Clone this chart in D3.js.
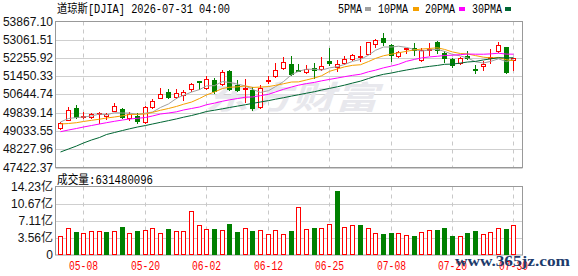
<!DOCTYPE html>
<html>
<head>
<meta charset="utf-8">
<script src="https://cdn.jsdelivr.net/npm/d3@7/dist/d3.min.js"></script>
<style>
  body { margin: 0; background: #fff; }
</style>
</head>
<body>
<svg id="chart" width="578" height="276"></svg>
<script>
// daily candles, oldest first (index 0 .. 59)
const open = [49152, 49519, 50062, 49678, 49638, 49771, 49709, 49929, 50004, 49593,
  49696, 49444, 50079, 50503, 50742, 50547, 50622, 50874, 51240, 50953,
  51297, 51108, 51695, 51051, 50918, 50856, 50079, 51227, 51448, 51814,
  51991, 51739, 51638, 51801, 51757, 52110, 51845, 52048, 52225, 52286,
  52445, 52887, 53138, 52843, 52331, 52667, 52697, 52154, 52621, 52962,
  52476, 52211, 52035, 52357, 51783, 51889, 52242, 52578, 52741, 52189];
const high = [49444, 50079, 50181, 49857, 49842, 49886, 49815, 50256, 50049, 49857,
  49815, 50150, 50432, 50918, 50874, 50874, 50843, 51165, 51240, 51448,
  51372, 51739, 51739, 51297, 51342, 50962, 51051, 51448, 52035, 52286,
  52331, 51991, 51960, 52035, 52286, 52697, 52167, 52357, 52432, 52772,
  52980, 53094, 53359, 52860, 52574, 52700, 52918, 52697, 52918, 52992,
  52551, 52255, 52286, 52551, 51933, 52110, 52666, 52962, 52760, 52270];
const low = [49121, 49510, 49593, 49593, 49593, 49373, 49550, 49916, 49593, 49519,
  49373, 49373, 50035, 50490, 50476, 50476, 50402, 50799, 50874, 50887,
  50710, 51078, 50856, 50813, 50313, 49974, 50049, 51152, 51417, 51783,
  51518, 51668, 51594, 51373, 51726, 51960, 51695, 51991, 52181, 52110,
  52430, 52726, 52843, 52136, 52300, 52476, 52401, 52136, 52401, 52476,
  52066, 51858, 51991, 52225, 51593, 51739, 52035, 52520, 51594, 51726];
const close = [49373, 49960, 49665, 49710, 49771, 49815, 49771, 50137, 49638, 49771,
  49488, 50079, 50371, 50653, 50547, 50724, 50740, 51094, 51209, 51351,
  50785, 51638, 50900, 50843, 50945, 50049, 50932, 51297, 51739, 52066,
  51549, 51695, 51757, 51726, 51889, 52022, 51991, 52225, 52401, 52331,
  52962, 53063, 52949, 52401, 52507, 52697, 52595, 52600, 52665, 52622,
  52255, 51933, 52255, 52240, 51757, 51991, 52286, 52816, 51624, 52255];
const volume = [396e6, 556e6, 479e6, 451e6, 493e6, 493e6, 479e6, 493e6, 583e6, 451e6,
  500e6, 521e6, 556e6, 451e6, 542e6, 493e6, 493e6, 910e6, 618e6, 542e6,
  542e6, 521e6, 653e6, 486e6, 556e6, 500e6, 521e6, 438e6, 521e6, 438e6,
  500e6, 1000e6, 542e6, 563e6, 563e6, 646e6, 1333e6, 583e6, 625e6, 625e6,
  563e6, 465e6, 438e6, 465e6, 465e6, 417e6, 396e6, 479e6, 521e6, 521e6,
  563e6, 396e6, 396e6, 465e6, 500e6, 438e6, 479e6, 563e6, 542e6, 631480096];

// moving-average values before enough candles exist
const ma5Head = [49431, 49585, 49629, 49651];
const ma10Head = [49342, 49364, 49400, 49453, 49506, 49554, 49607, 49651, 49704];
const ma20Head = [49003, 49078, 49144, 49210, 49276, 49342, 49400, 49462, 49519, 49563,
  49594, 49630, 49696, 49784, 49828, 49881, 49960, 50027, 50093];
const ma30Head = [48107, 48239, 48371, 48504, 48636, 48747, 48879, 48967, 49055, 49130,
  49210, 49276, 49342, 49417, 49492, 49567, 49642, 49717, 49805, 49894,
  49951, 50013, 50071, 50132, 50194, 50252, 50314, 50375, 50437];

const priceTicks = [47422.37, 48227.96, 49033.55, 49839.14, 50644.74, 51450.33, 52255.92, 53061.51, 53867.10];
const volTicks = [0, 3.56e8, 7.11e8, 10.67e8, 14.23e8];
const dateTicks = ['05-08', '05-20', '06-02', '06-12', '06-25', '07-08', '07-20', '07-30'];
const dateTickIdx = [3, 11, 19, 27, 35, 43, 51, 59];
const legendNames = ['5PMA', '10PMA', '20PMA', '30PMA'];
const title = '道琼斯[DJIA] 2026-07-31 04:00';

const UP = '#ff0000', DOWN = '#008000';
const maColors = ['#a0a0a0', '#f5a000', '#ff00ff', '#006633'];
const monoFont = '"Liberation Mono", "Noto Sans CJK SC", monospace';
const sansFont = '"Liberation Sans", "Noto Sans CJK SC", sans-serif';

const svg = d3.select('#chart');

// panel geometry
const L = 55.5, R = 522.5;
const pTop = 21.5, pBot = 167.5;
const vTop = 186.5, vBot = 255;

const x = d3.scaleBand().domain(d3.range(close.length)).range([56.5, 517.3]);
const cx = i => Math.round(x(i) + x.bandwidth() / 2);
const y = d3.scaleLinear().domain([priceTicks[0], priceTicks[priceTicks.length - 1]]).range([pBot, pTop]);
const yv = d3.scaleLinear().domain([0, volTicks[volTicks.length - 1]]).range([vBot, vTop]);

// moving averages
function movingAvg(n, head) {
  return close.map((c, i) => i < head.length ? head[i] : d3.mean(close.slice(i - n + 1, i + 1)));
}
const maSeries = [movingAvg(5, ma5Head), movingAvg(10, ma10Head), movingAvg(20, ma20Head), movingAvg(30, ma30Head)];

// ---- grid ----
const grid = svg.append('g');
grid.selectAll('.hp').data(priceTicks.slice(0, -1)).enter().append('line')
  .attr('x1', L).attr('x2', R)
  .attr('y1', d => Math.round(y(d)) + 0.5).attr('y2', d => Math.round(y(d)) + 0.5)
  .attr('stroke', '#cfcfcf');
grid.selectAll('.hv').data(volTicks.slice(1, -1)).enter().append('line')
  .attr('x1', L).attr('x2', R)
  .attr('y1', d => Math.round(yv(d)) + 0.5).attr('y2', d => Math.round(yv(d)) + 0.5)
  .attr('stroke', '#cfcfcf');
dateTickIdx.forEach(i => {
  [[pTop, pBot], [vTop, vBot]].forEach(([a, b]) => {
    grid.append('line')
      .attr('x1', cx(i) + 0.5).attr('x2', cx(i) + 0.5)
      .attr('y1', a).attr('y2', b)
      .attr('stroke', '#c8c8c8').attr('stroke-dasharray', '4,4');
  });
});

// watermark
svg.append('text')
  .attr('x', 205).attr('y', 109)
  .attr('font-family', '"Noto Sans CJK SC", sans-serif')
  .attr('font-size', 32).attr('font-weight', 'bold').attr('font-style', 'italic')
  .attr('textLength', 173).attr('lengthAdjust', 'spacingAndGlyphs')
  .attr('fill', '#e8e8ed')
  .text('东方财富');

// panel frames
svg.append('rect').attr('x', L).attr('y', pTop).attr('width', R - L).attr('height', pBot - pTop)
  .attr('fill', 'none').attr('stroke', '#999');
svg.append('rect').attr('x', L).attr('y', vTop).attr('width', R - L).attr('height', vBot - vTop)
  .attr('fill', 'none').attr('stroke', '#999');

// ---- candles ----
const candles = svg.append('g').selectAll('g').data(close).enter().append('g');
candles.append('line')
  .attr('x1', (d, i) => cx(i) + 0.5).attr('x2', (d, i) => cx(i) + 0.5)
  .attr('y1', (d, i) => Math.round(y(high[i]))).attr('y2', (d, i) => Math.round(y(low[i])) + 1)
  .attr('stroke', (d, i) => close[i] >= open[i] ? UP : DOWN);
candles.append('rect')
  .attr('x', (d, i) => cx(i) - 1.5)
  .attr('width', 4)
  .attr('y', (d, i) => Math.round(y(Math.max(open[i], close[i]))) + 0.5)
  .attr('height', (d, i) => Math.max(1, Math.round(y(Math.min(open[i], close[i]))) - Math.round(y(Math.max(open[i], close[i])))))
  .attr('fill', (d, i) => close[i] >= open[i] ? '#fff' : DOWN)
  .attr('stroke', (d, i) => close[i] >= open[i] ? UP : DOWN);

// ---- moving average lines ----
const line = d3.line().x((d, i) => cx(i) + 0.5).y(d => y(d));
maSeries.forEach((s, k) => {
  svg.append('path').datum(s)
    .attr('d', line).attr('fill', 'none')
    .attr('stroke', maColors[k]).attr('stroke-width', 1);
});

// ---- volume ----
// bar colour follows close vs previous close
const volUp = i => i === 0 || close[i] >= close[i - 1];
svg.append('g').selectAll('rect').data(volume).enter().append('rect')
  .attr('x', (d, i) => cx(i) - 1.5)
  .attr('width', 4)
  .attr('y', d => Math.round(yv(d)) + 0.5)
  .attr('height', d => Math.round(vBot) - Math.round(yv(d)) - 1)
  .attr('fill', (d, i) => volUp(i) ? '#fff' : DOWN)
  .attr('stroke', (d, i) => volUp(i) ? UP : DOWN);

// ---- axis labels ----
svg.append('g').selectAll('text').data(priceTicks).enter().append('text')
  .attr('x', 53).attr('y', d => y(d))
  .attr('text-anchor', 'end').attr('dominant-baseline', 'central')
  .attr('font-family', sansFont).attr('font-size', 12).attr('fill', '#111')
  .text(d => d.toFixed(2));
svg.append('g').selectAll('text').data(volTicks).enter().append('text')
  .attr('x', 53).attr('y', d => yv(d))
  .attr('text-anchor', 'end').attr('dominant-baseline', 'central')
  .attr('font-family', sansFont).attr('font-size', 12).attr('fill', '#111')
  .text(d => d === 0 ? '0' : (d / 1e8).toFixed(2) + '亿');
svg.append('g').selectAll('text').data(dateTicks).enter().append('text')
  .attr('x', (d, i) => cx(dateTickIdx[i]) + 0.5).attr('y', 270)
  .attr('text-anchor', 'middle')
  .attr('font-family', monoFont).attr('font-size', 12).attr('fill', UP)
  .attr('textLength', 29).attr('lengthAdjust', 'spacingAndGlyphs')
  .text(d => d);

// ---- title, legend, volume caption ----
svg.append('text')
  .attr('x', 57).attr('y', 12.5)
  .attr('font-family', monoFont).attr('font-size', 12).attr('fill', '#000')
  .attr('textLength', 173).attr('lengthAdjust', 'spacingAndGlyphs')
  .text(title);

const legendX = [338, 378, 425, 472];
const legendW = [24, 30, 30, 30];
const swatchX = [365, 413, 459, 505];
legendNames.forEach((n, k) => {
  svg.append('text')
    .attr('x', legendX[k]).attr('y', 12.5)
    .attr('font-family', monoFont).attr('font-size', 12).attr('fill', '#000')
    .attr('textLength', legendW[k]).attr('lengthAdjust', 'spacingAndGlyphs')
    .text(n);
  svg.append('rect')
    .attr('x', swatchX[k]).attr('y', 7).attr('width', 6).attr('height', 4)
    .attr('fill', maColors[k]);
});

svg.append('text')
  .attr('x', 57).attr('y', 184)
  .attr('font-family', monoFont).attr('font-size', 12).attr('fill', '#000')
  .attr('textLength', 96).attr('lengthAdjust', 'spacingAndGlyphs')
  .text('成交量:' + volume[volume.length - 1]);

// site stamp bottom right
svg.append('text')
  .attr('x', 455).attr('y', 266)
  .attr('font-family', '"Liberation Serif", serif').attr('font-size', 15).attr('font-weight', 'bold')
  .attr('fill', '#1d3b6c')
  .attr('textLength', 115).attr('lengthAdjust', 'spacingAndGlyphs')
  .text('www.365jz.com');
</script>
</body>
</html>
